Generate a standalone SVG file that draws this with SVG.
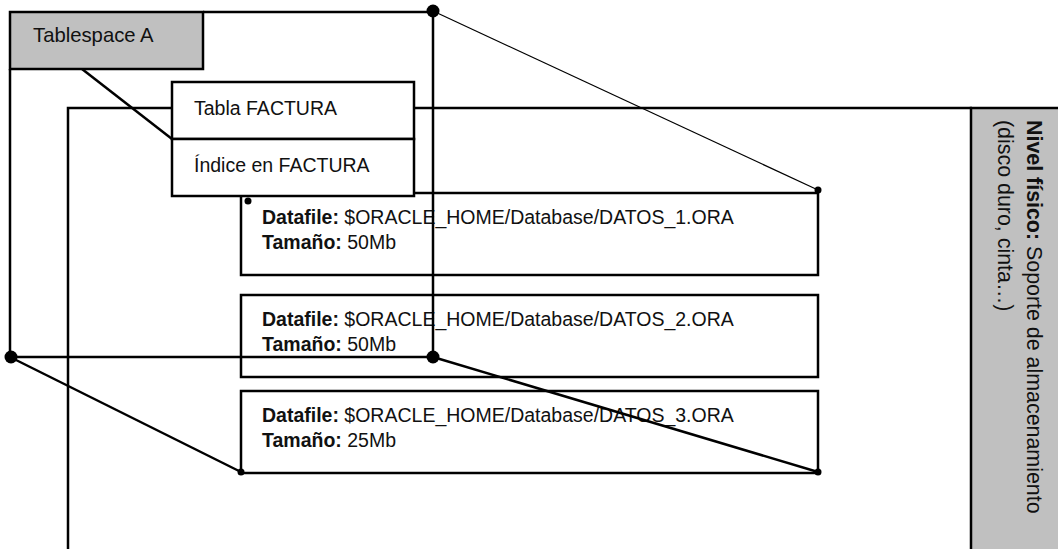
<svg xmlns="http://www.w3.org/2000/svg" width="1058" height="549" viewBox="0 0 1058 549">
<defs>
<style>
.box{fill:#fff;stroke:#000;stroke-width:2.5}
.gray{fill:#c0c0c0;stroke:#000;stroke-width:2.5}
.ln{fill:none;stroke:#000;stroke-width:2.5}
.thin{fill:none;stroke:#000;stroke-width:1.2}
.t{font-family:"Liberation Sans",Arial,sans-serif;font-size:19.5px;fill:#111}
.v{font-size:21.4px}
.b{font-weight:bold}
.big{fill:#000}
</style>
</defs>
<rect width="1058" height="549" fill="#fff"/>
<g id="logical-frame">
<path class="ln" d="M68,549 V108 H972"/>
</g>
<g id="nivel-fisico">
<rect class="gray" x="971" y="108" width="90" height="445"/>
<g transform="translate(1027,120) rotate(90)">
<text class="t v" x="0" y="0"><tspan class="b">Nivel físico:</tspan> Soporte de almacenamiento</text>
<text class="t v" x="0" y="29">(disco duro, cinta…)</text>
</g>
</g>
<g id="datafile1">
<rect class="box" x="241" y="193" width="577" height="82"/>
<text class="t" x="262" y="224"><tspan class="b">Datafile:</tspan> $ORACLE_HOME/Database/DATOS_1.ORA</text>
<text class="t" x="262" y="249"><tspan class="b">Tamaño:</tspan> 50Mb</text>
</g>
<g id="datafile2">
<rect class="box" x="241" y="295" width="577" height="82"/>
<text class="t" x="262" y="326"><tspan class="b">Datafile:</tspan> $ORACLE_HOME/Database/DATOS_2.ORA</text>
<text class="t" x="262" y="351"><tspan class="b">Tamaño:</tspan> 50Mb</text>
</g>
<g id="datafile3">
<rect class="box" x="241" y="391" width="577" height="82"/>
<text class="t" x="262" y="422"><tspan class="b">Datafile:</tspan> $ORACLE_HOME/Database/DATOS_3.ORA</text>
<text class="t" x="262" y="447"><tspan class="b">Tamaño:</tspan> 25Mb</text>
</g>
<g id="tabla-factura">
<rect class="box" x="172" y="82" width="242" height="57"/>
<text class="t" x="194" y="115">Tabla FACTURA</text>
</g>
<g id="indice-factura">
<rect class="box" x="172" y="139" width="242" height="57"/>
<text class="t" x="194" y="172">Índice en FACTURA</text>
</g>
<g id="tablespace-a">
<rect class="gray" x="10" y="12" width="193" height="57"/>
<text class="t" x="33" y="42" style="font-size:20.3px">Tablespace A</text>
</g>
<g id="connectors">
<path class="ln" d="M203,12 H433 V357 H10 V69"/>
<path class="ln" d="M82,69 L172,139"/>
<path class="ln" d="M10,357 L241,472"/>
<path class="ln" d="M433,357 L818,472"/>
<path class="thin" d="M433,11 L818,190"/>
<circle class="big" cx="433" cy="11" r="6.5"/>
<circle class="big" cx="433" cy="357" r="6.5"/>
<circle class="big" cx="11" cy="357" r="6.5"/>
<circle class="big" cx="818" cy="190" r="3.5"/>
<circle class="big" cx="818" cy="472" r="3.5"/>
<circle class="big" cx="241" cy="472" r="3.5"/>
<circle class="big" cx="248" cy="201" r="3.5"/>
</g>
</svg>
